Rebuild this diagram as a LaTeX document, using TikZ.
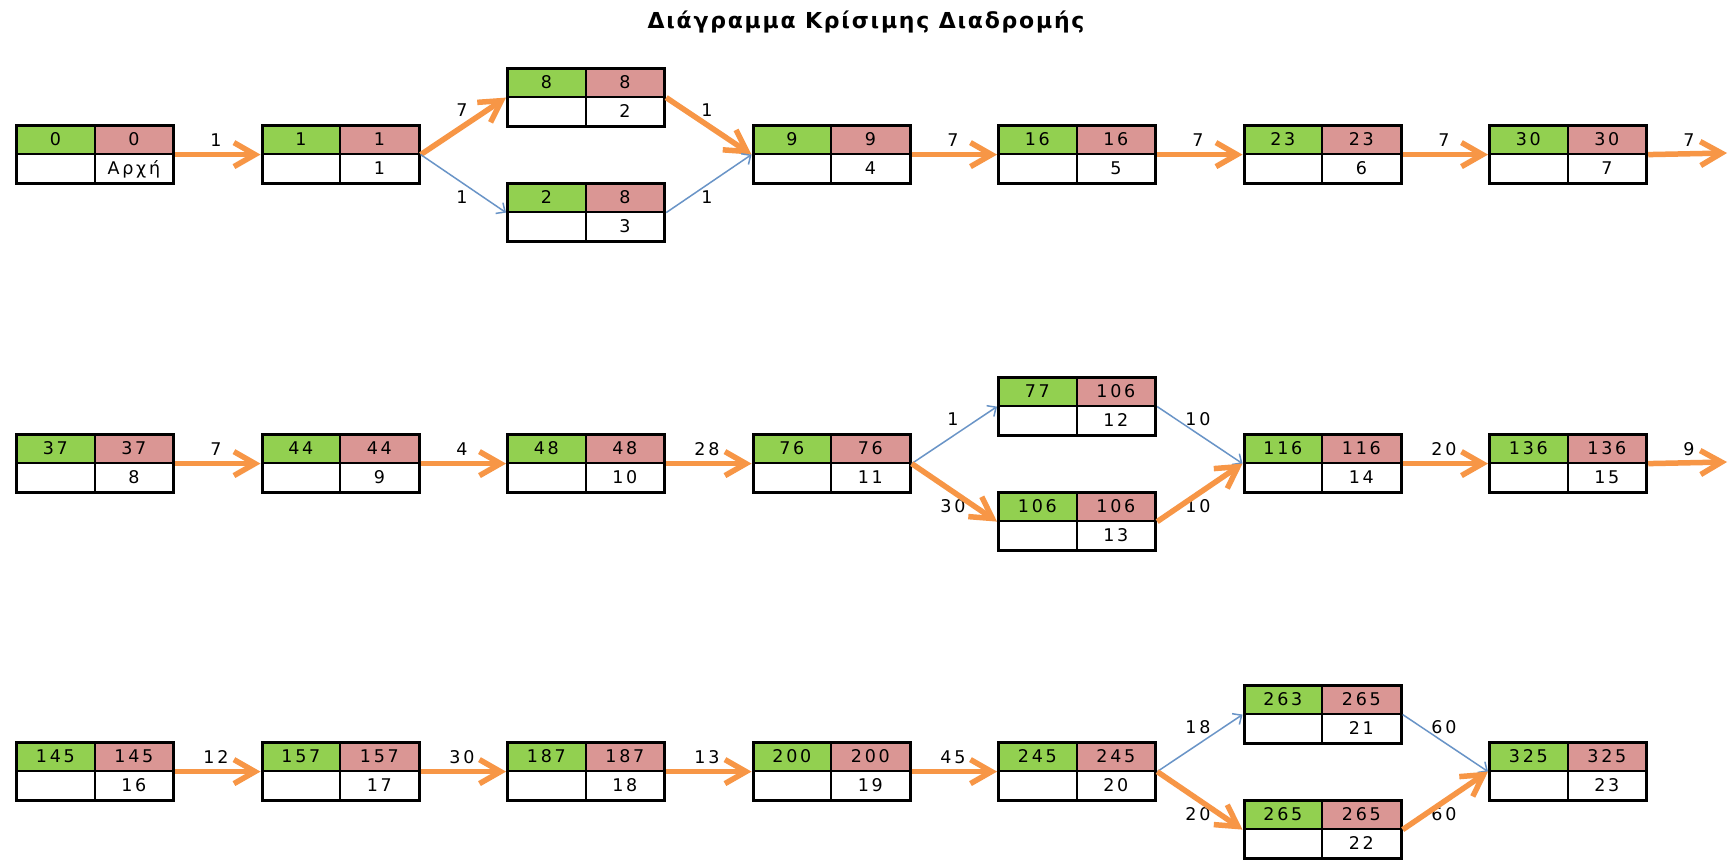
\documentclass[tikz,border=0pt]{standalone}
\usepackage{fontspec}
\setmainfont{DejaVu Sans}[LetterSpace=16]
\newfontfamily\titlefont{DejaVu Sans}[LetterSpace=8]
\usetikzlibrary{arrows.meta}
\definecolor{esg}{HTML}{92D050}
\definecolor{lsr}{HTML}{DA9694}
\definecolor{crit}{HTML}{F79646}
\definecolor{nonc}{HTML}{4F81BD}
\newcommand\actbox[6]{%
  \node[esc] (#1a) at (#2,#3) {#4};
  \node[lsc] (#1b) at (#2+78.5,#3) {#5};
  \node[idc] (#1c) at (#2,#3+29) {};
  \node[idc] (#1d) at (#2+78.5,#3+29) {#6};
  \node[boxframe] (#1) at (#2,#3) {};
}
\begin{document}
\begin{tikzpicture}[x=1pt,y=-1pt,
  cell/.style={draw=black, line width=2.2pt, minimum width=78.5pt, minimum height=29pt,
    inner sep=0pt, anchor=north west, font=\fontsize{17.5}{17.5}\selectfont, text=black,
    text height=12.6pt, text depth=0pt},
  esc/.style={cell, fill=esg},
  lsc/.style={cell, fill=lsr},
  idc/.style={cell, fill=white},
  boxframe/.style={draw=black, line width=3.2pt, minimum width=157pt, minimum height=58pt,
    inner sep=0pt, anchor=north west},
  critarrow/.style={draw=crit, line width=5.5pt, -{Straight Barb[length=21pt,width=24pt]}},
  ncarrow/.style={draw=nonc!85, line width=1.5pt, -{Straight Barb[length=7pt,width=13pt]}},
  dur/.style={font=\fontsize{17.5}{17.5}\selectfont, text=black, inner sep=0pt},
]
\fill[white] (0,0) rectangle (1729,867);
\useasboundingbox (0,0) rectangle (1729,867);

\node[font=\titlefont\bfseries\fontsize{22}{22}\selectfont, anchor=base] (title) at (866,29) {Διάγραμμα Κρίσιμης Διαδρομής};

% Row 1
\actbox{n0}{15}{124}{0}{0}{Αρχή}
\actbox{n1}{260.5}{124}{1}{1}{1}
\actbox{n2}{506}{67}{8}{8}{2}
\actbox{n3}{506}{182}{2}{8}{3}
\actbox{n4}{751.5}{124}{9}{9}{4}
\actbox{n5}{997}{124}{16}{16}{5}
\actbox{n6}{1242.5}{124}{23}{23}{6}
\actbox{n7}{1488}{124}{30}{30}{7}
\coordinate (e1) at (1727,153);

% Row 2
\actbox{n8}{15}{433}{37}{37}{8}
\actbox{n9}{260.5}{433}{44}{44}{9}
\actbox{n10}{506}{433}{48}{48}{10}
\actbox{n11}{751.5}{433}{76}{76}{11}
\actbox{n12}{997}{376}{77}{106}{12}
\actbox{n13}{997}{491}{106}{106}{13}
\actbox{n14}{1242.5}{433}{116}{116}{14}
\actbox{n15}{1488}{433}{136}{136}{15}
\coordinate (e2) at (1727,462);

% Row 3
\actbox{n16}{15}{741}{145}{145}{16}
\actbox{n17}{260.5}{741}{157}{157}{17}
\actbox{n18}{506}{741}{187}{187}{18}
\actbox{n19}{751.5}{741}{200}{200}{19}
\actbox{n20}{997}{741}{245}{245}{20}
\actbox{n21}{1242.5}{684}{263}{265}{21}
\actbox{n22}{1242.5}{799}{265}{265}{22}
\actbox{n23}{1488}{741}{325}{325}{23}

% Duration labels
\node[dur] (d1) at (216,140) {1};
\node[dur] (d2) at (462,110) {7};
\node[dur] (d3) at (462,197) {1};
\node[dur] (d4) at (707,110) {1};
\node[dur] (d5) at (707,197) {1};
\node[dur] (d6) at (953,140) {7};
\node[dur] (d7) at (1198,140) {7};
\node[dur] (d8) at (1444,140) {7};
\node[dur] (d9) at (1689,140) {7};

\node[dur] (d10) at (216,449) {7};
\node[dur] (d11) at (462,449) {4};
\node[dur] (d12) at (707,449) {28};
\node[dur] (d13) at (953,419) {1};
\node[dur] (d14) at (953,506) {30};
\node[dur] (d15) at (1198,419) {10};
\node[dur] (d16) at (1198,506) {10};
\node[dur] (d17) at (1444,449) {20};
\node[dur] (d18) at (1689,449) {9};

\node[dur] (d19) at (216,757) {12};
\node[dur] (d20) at (462,757) {30};
\node[dur] (d21) at (707,757) {13};
\node[dur] (d22) at (953,757) {45};
\node[dur] (d23) at (1198,727) {18};
\node[dur] (d24) at (1198,814) {20};
\node[dur] (d25) at (1444,727) {60};
\node[dur] (d26) at (1444,814) {60};

% Connectors row 1
\draw[critarrow] (n0.east) -- (n1.west);
\draw[critarrow] (n1.east) -- (n2.west);
\draw[ncarrow] (n1.east) -- (n3.west);
\draw[critarrow] (n2.east) -- (n4.west);
\draw[ncarrow] (n3.east) -- (n4.west);
\draw[critarrow] (n4.east) -- (n5.west);
\draw[critarrow] (n5.east) -- (n6.west);
\draw[critarrow] (n6.east) -- (n7.west);
\draw[critarrow] (n7.east) -- (e1);

% Connectors row 2
\draw[critarrow] (n8.east) -- (n9.west);
\draw[critarrow] (n9.east) -- (n10.west);
\draw[critarrow] (n10.east) -- (n11.west);
\draw[ncarrow] (n11.east) -- (n12.west);
\draw[critarrow] (n11.east) -- (n13.west);
\draw[ncarrow] (n12.east) -- (n14.west);
\draw[critarrow] (n13.east) -- (n14.west);
\draw[critarrow] (n14.east) -- (n15.west);
\draw[critarrow] (n15.east) -- (e2);

% Connectors row 3
\draw[critarrow] (n16.east) -- (n17.west);
\draw[critarrow] (n17.east) -- (n18.west);
\draw[critarrow] (n18.east) -- (n19.west);
\draw[critarrow] (n19.east) -- (n20.west);
\draw[ncarrow] (n20.east) -- (n21.west);
\draw[critarrow] (n20.east) -- (n22.west);
\draw[ncarrow] (n21.east) -- (n23.west);
\draw[critarrow] (n22.east) -- (n23.west);
\end{tikzpicture}
\end{document}
